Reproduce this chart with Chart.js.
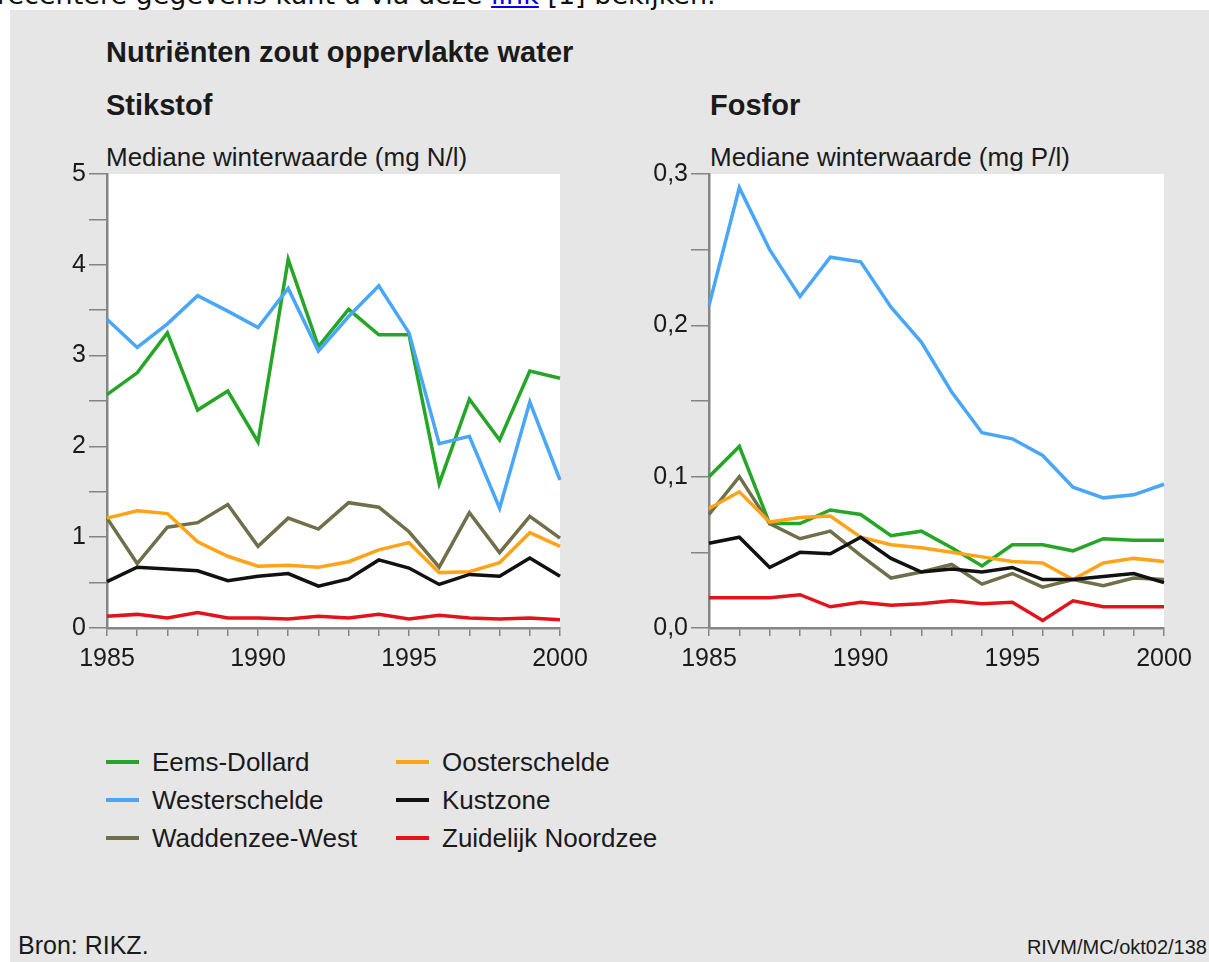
<!DOCTYPE html>
<html>
<head>
<meta charset="utf-8">
<script src="https://cdn.jsdelivr.net/npm/chart.js@4.4.1/dist/chart.umd.min.js"></script>
<style>
  html, body { margin: 0; padding: 0; background: #fff; }
  body { width: 1209px; height: 962px; position: relative; overflow: hidden;
         font-family: "Liberation Sans", Arial, sans-serif; color: #1a1a1a; }
  .intro { position: absolute; left: -3px; top: -20px; font-family: "DejaVu Sans", Verdana, sans-serif;
           font-size: 27px; line-height: 30px; white-space: nowrap; color: #111; }
  .intro a { color: #0000ee; }
  .panel { position: absolute; left: 10px; top: 10px; right: 0; bottom: 0; background: #e6e6e6; }
  .txt { position: absolute; white-space: nowrap; line-height: 1; }
  .bold { font-weight: bold; font-size: 29px; }
  .sub { font-size: 26px; }
  canvas { position: absolute; }
  .leg-line { position: absolute; height: 4px; width: 33px; }
</style>
</head>
<body>
<div class="intro">recentere gegevens kunt u via deze <a href="#">link</a> [1] bekijken.</div>
<div class="panel"></div>

<div class="txt bold" style="left:106px; top:38px;">Nutriënten zout oppervlakte water</div>
<div class="txt bold" style="left:106px; top:91px;">Stikstof</div>
<div class="txt bold" style="left:710px; top:91px;">Fosfor</div>
<div class="txt sub" style="left:106px; top:144px;">Mediane winterwaarde (mg N/l)</div>
<div class="txt sub" style="left:710px; top:144px;">Mediane winterwaarde (mg P/l)</div>

<canvas id="chartN" width="560" height="550" style="left:40px; top:150px;"></canvas>
<canvas id="chartP" width="575" height="550" style="left:630px; top:150px;"></canvas>

<div id="legend"></div>

<div class="txt" style="left:18px; top:933px; font-size:25px;">Bron: RIKZ.</div>
<div class="txt" style="right:2px; top:937px; font-size:20px;">RIVM/MC/okt02/138</div>

<script>
const years = [1985, 1986, 1987, 1988, 1989, 1990, 1991, 1992, 1993, 1994, 1995, 1996, 1997, 1998, 1999, 2000];

const seriesNames = ['Eems-Dollard', 'Westerschelde', 'Waddenzee-West', 'Oosterschelde', 'Kustzone', 'Zuidelijk Noordzee'];
const seriesColors = ['#26a626', '#4aa6f7', '#6f6f4a', '#ffa319', '#111111', '#e3131b'];

// Stikstof, mg N/l
const eemsN   = [2.57, 2.81, 3.25, 2.40, 2.61, 2.05, 4.06, 3.10, 3.51, 3.23, 3.23, 1.59, 2.52, 2.07, 2.83, 2.75];
const westN   = [3.40, 3.09, 3.35, 3.66, 3.49, 3.31, 3.74, 3.05, 3.43, 3.77, 3.25, 2.03, 2.11, 1.32, 2.49, 1.63];
const waddenN = [1.21, 0.71, 1.11, 1.16, 1.36, 0.90, 1.21, 1.09, 1.38, 1.33, 1.06, 0.67, 1.27, 0.83, 1.23, 0.99];
const oosterN = [1.21, 1.29, 1.26, 0.95, 0.79, 0.68, 0.69, 0.67, 0.73, 0.86, 0.94, 0.61, 0.62, 0.72, 1.05, 0.90];
const kustN   = [0.51, 0.67, 0.65, 0.63, 0.52, 0.57, 0.60, 0.46, 0.54, 0.75, 0.66, 0.48, 0.59, 0.57, 0.77, 0.57];
const zuidN   = [0.13, 0.15, 0.11, 0.17, 0.11, 0.11, 0.10, 0.13, 0.11, 0.15, 0.10, 0.14, 0.11, 0.10, 0.11, 0.09];

// Fosfor, mg P/l
const eemsP   = [0.100, 0.120, 0.069, 0.069, 0.078, 0.075, 0.061, 0.064, 0.053, 0.041, 0.055, 0.055, 0.051, 0.059, 0.058, 0.058];
const westP   = [0.213, 0.291, 0.250, 0.219, 0.245, 0.242, 0.212, 0.189, 0.156, 0.129, 0.125, 0.114, 0.093, 0.086, 0.088, 0.095];
const waddenP = [0.075, 0.100, 0.069, 0.059, 0.064, 0.048, 0.033, 0.037, 0.042, 0.029, 0.036, 0.027, 0.032, 0.028, 0.033, 0.032];
const oosterP = [0.079, 0.090, 0.070, 0.073, 0.074, 0.060, 0.055, 0.053, 0.050, 0.047, 0.044, 0.043, 0.032, 0.043, 0.046, 0.044];
const kustP   = [0.056, 0.060, 0.040, 0.050, 0.049, 0.060, 0.046, 0.037, 0.039, 0.037, 0.040, 0.032, 0.032, 0.034, 0.036, 0.030];
const zuidP   = [0.020, 0.020, 0.020, 0.022, 0.014, 0.017, 0.015, 0.016, 0.018, 0.016, 0.017, 0.005, 0.018, 0.014, 0.014, 0.014];

const axisColor = '#858585';
const tickFont = { family: "'Liberation Sans', Arial, sans-serif", size: 25 };

const whiteArea = {
  id: 'whiteArea',
  beforeDraw(chart) {
    const a = chart.chartArea;
    const ctx = chart.ctx;
    ctx.save();
    ctx.fillStyle = '#ffffff';
    ctx.fillRect(a.left, a.top, a.right - a.left, a.bottom - a.top);
    ctx.restore();
  }
};

function buildChart(canvasId, seriesData, yMax, yStep, yLabel, yAxisWidth, rightPad) {
  const datasets = seriesData.map((data, i) => ({
    label: seriesNames[i],
    data,
    borderColor: seriesColors[i],
    borderWidth: 3.5,
    pointRadius: 0,
    tension: 0,
    fill: false
  })).reverse();

  return new Chart(document.getElementById(canvasId), {
    type: 'line',
    data: { labels: years, datasets },
    plugins: [whiteArea],
    options: {
      responsive: false,
      animation: false,
      devicePixelRatio: 1,
      layout: { padding: { top: 24, right: rightPad, left: 0, bottom: 0 } },
      plugins: { legend: { display: false }, tooltip: { enabled: false } },
      scales: {
        x: {
          offset: false,
          border: { display: true, color: axisColor, width: 2.5 },
          grid: { drawOnChartArea: false, tickLength: 8, color: axisColor, lineWidth: 1.5 },
          ticks: {
            autoSkip: false, maxRotation: 0, minRotation: 0, padding: 8,
            color: '#1a1a1a', font: tickFont,
            callback(value, index) {
              const y = years[index];
              return y % 5 === 0 ? String(y) : '';
            }
          },
          afterFit(scale) {
            scale.height = 72;
            scale.paddingLeft = 0;
            scale.paddingRight = 0;
          }
        },
        y: {
          min: 0, max: yMax,
          border: { display: true, color: axisColor, width: 2.5 },
          grid: { drawOnChartArea: false, tickLength: 18, color: axisColor, lineWidth: 1.5 },
          ticks: { stepSize: yStep, padding: 3, color: '#1a1a1a', font: tickFont, callback: yLabel },
          afterFit(scale) {
            scale.width = yAxisWidth;
            scale.paddingTop = 0;
            scale.paddingBottom = 0;
          }
        }
      }
    }
  });
}

buildChart('chartN', [eemsN, westN, waddenN, oosterN, kustN, zuidN], 5, 0.5,
  (v) => (Math.abs(v - Math.round(v)) < 1e-6 ? String(Math.round(v)) : ''), 67, 40);

buildChart('chartP', [eemsP, westP, waddenP, oosterP, kustP, zuidP], 0.3, 0.05,
  (v) => {
    const t = v * 10;
    return Math.abs(t - Math.round(t)) < 1e-6 ? (Math.round(t) / 10).toFixed(1).replace('.', ',') : '';
  }, 79, 41);

// legend, two columns of three
const legend = document.getElementById('legend');
seriesNames.forEach((name, i) => {
  const col = Math.floor(i / 3);
  const row = i % 3;
  const x = 106 + col * 290;
  const yMid = 762 + row * 38;
  const line = document.createElement('div');
  line.className = 'leg-line';
  line.style.left = x + 'px';
  line.style.top = (yMid - 2) + 'px';
  line.style.background = seriesColors[i];
  legend.appendChild(line);
  const label = document.createElement('div');
  label.className = 'txt sub';
  label.style.left = (x + 46) + 'px';
  label.style.top = (yMid + 9 - 22) + 'px';
  label.textContent = name;
  legend.appendChild(label);
});
</script>
</body>
</html>
